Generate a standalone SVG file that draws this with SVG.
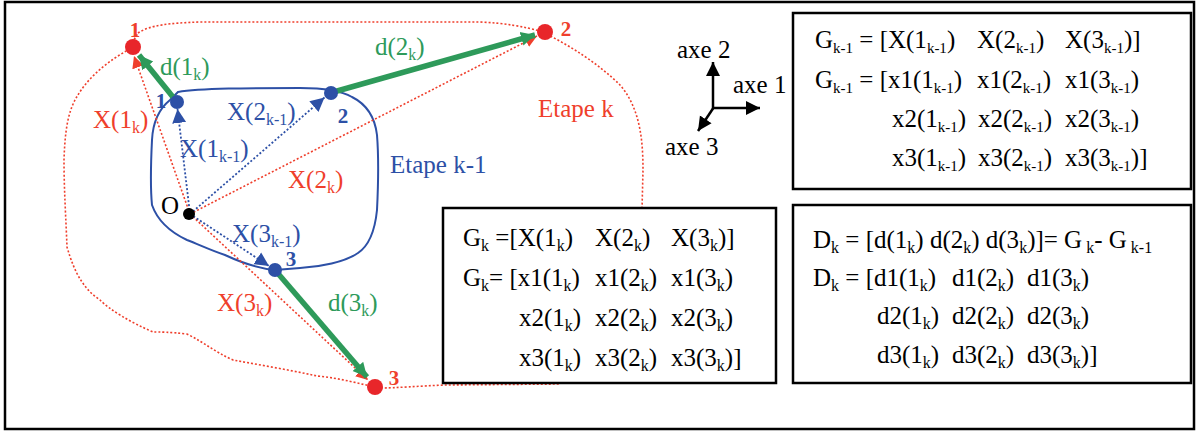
<svg xmlns="http://www.w3.org/2000/svg" width="1198" height="434" viewBox="0 0 1198 434">
<defs>
<style>
.t{font-family:"Liberation Serif","Times New Roman",serif;font-size:25px;fill:#000}
.s{font-size:16px}
.s2{font-size:15px}
.red{fill:#ef3f2c}
.blue{fill:#2d50a6}
.green{fill:#2e9a5a}
.num{font-family:"Liberation Serif","Times New Roman",serif;font-size:21px;font-weight:bold;text-anchor:middle}
.box{fill:#fff;stroke:#000;stroke-width:2.5}
.rdot{stroke:#ef3f2c;stroke-width:1.6;stroke-dasharray:2 2;fill:none}
.bdot{stroke:#2d50a6;stroke-width:1.8;stroke-dasharray:2 2;fill:none}
.gar{stroke:#2e9a5a;stroke-width:5.5;fill:none}
.ax{stroke:#000;stroke-width:2.5;fill:none}
</style>
<marker id="mr" markerUnits="userSpaceOnUse" markerWidth="14" markerHeight="12" refX="12" refY="6" orient="auto"><path d="M0,0 L12,6 L0,12 Z" fill="#ef3f2c"/></marker>
<marker id="mb" markerUnits="userSpaceOnUse" markerWidth="16" markerHeight="16" refX="14" refY="8" orient="auto"><path d="M0,1 L14,8 L0,15 Z" fill="#2d50a6"/></marker>
<marker id="mg" markerUnits="userSpaceOnUse" markerWidth="16" markerHeight="16" refX="14" refY="8" orient="auto"><path d="M0,1 L14,8 L0,15 Z" fill="#2e9a5a"/></marker>
<marker id="mk" markerUnits="userSpaceOnUse" markerWidth="16" markerHeight="16" refX="14" refY="8" orient="auto"><path d="M0,1 L14,8 L0,15 Z" fill="#000"/></marker>
</defs>
<rect x="0" y="0" width="1198" height="434" fill="#fff"/>
<rect x="5" y="2" width="1189" height="427" fill="none" stroke="#000" stroke-width="2.5"/>

<g id="etape-k">
<path class="rdot" d="M138,33 C150,25 170,23 200,22 L480,22 C505,23 525,27 540,31 C570,45 600,65 620,85 C640,108 643,140 643,170 L642,210 L642,300 L560,384 L445,385 C420,386 395,388 380,388 C360,384 340,378 317,376 C290,370 260,365 233,360 C215,352 205,343 187,334 C170,332 160,332 153,332 C130,322 110,310 100,300 C85,290 75,275 67,247 C66,220 64,190 64,160 C65,130 68,110 78,95 C90,75 110,60 128,50 Z"/>
<text class="t red" x="538" y="117">Etape k</text>
</g>
<g id="etape-k-1">
<path d="M178,92 C200,88 250,88 300,88 C320,88 340,90 352,97 C368,105 375,118 377,135 C379,160 378,190 377,210 C375,230 370,245 358,253 C345,262 320,267 300,268 L275,270 C255,268 240,262 225,255 C210,250 200,245 187,240 C170,232 158,222 152,205 C150,185 151,160 152,140 C153,120 160,108 170,100 Z" fill="none" stroke="#2d50a6" stroke-width="2"/>
<text class="t blue" x="390" y="173">Etape k-1</text>
</g>

<g id="connectors">
<line class="rdot" x1="190" y1="214" x2="134" y2="56" marker-end="url(#mr)"/>
<line class="rdot" x1="190" y1="214" x2="537" y2="36" marker-end="url(#mr)"/>
<line class="rdot" x1="190" y1="214" x2="368" y2="380" marker-end="url(#mr)"/>
<line class="bdot" x1="190" y1="214" x2="177.5" y2="109" marker-end="url(#mb)"/>
<line class="bdot" x1="190" y1="214" x2="324.5" y2="97.5" marker-end="url(#mb)"/>
<line class="bdot" x1="190" y1="214" x2="269" y2="266" marker-end="url(#mb)"/>
<line class="gar" x1="177" y1="102" x2="139" y2="55" marker-end="url(#mg)"/>
<line class="gar" x1="330" y1="93" x2="535" y2="35" marker-end="url(#mg)"/>
<line class="gar" x1="275" y1="270" x2="367" y2="377" marker-end="url(#mg)"/>
</g>

<g id="O"><circle cx="189" cy="214" r="6" fill="#000"/><text class="t" x="161" y="214">O</text></g>
<g id="b1"><circle cx="177" cy="102" r="7" fill="#2d50a6"/><text class="num blue" x="161" y="108">1</text></g>
<g id="b2"><circle cx="331" cy="93" r="7" fill="#2d50a6"/><text class="num blue" x="343" y="123">2</text></g>
<g id="b3"><circle cx="275" cy="270" r="7" fill="#2d50a6"/><text class="num blue" x="291" y="266">3</text></g>
<g id="r1"><circle cx="133" cy="47" r="8" fill="#e8262a"/><text class="num red" x="135" y="37">1</text></g>
<g id="r2"><circle cx="545" cy="32" r="8" fill="#e8262a"/><text class="num red" x="566" y="36">2</text></g>
<g id="r3"><circle cx="375" cy="387" r="8" fill="#e8262a"/><text class="num red" x="394" y="385">3</text></g>

<g id="labels">
<text class="t green" x="160" y="75">d(1<tspan class="s" dy="5">k</tspan><tspan dy="-5">)</tspan></text>
<text class="t green" x="375" y="55">d(2<tspan class="s" dy="5">k</tspan><tspan dy="-5">)</tspan></text>
<text class="t green" x="328" y="311">d(3<tspan class="s" dy="5">k</tspan><tspan dy="-5">)</tspan></text>
<text class="t red" x="93" y="128">X(1<tspan class="s" dy="5">k</tspan><tspan dy="-5">)</tspan></text>
<text class="t red" x="288" y="188">X(2<tspan class="s" dy="5">k</tspan><tspan dy="-5">)</tspan></text>
<text class="t red" x="217" y="311">X(3<tspan class="s" dy="5">k</tspan><tspan dy="-5">)</tspan></text>
<text class="t blue" x="180" y="157">X(1<tspan class="s" dy="5">k-1</tspan><tspan dy="-5">)</tspan></text>
<text class="t blue" x="227" y="120">X(2<tspan class="s" dy="5">k-1</tspan><tspan dy="-5">)</tspan></text>
<text class="t blue" x="232" y="242">X(3<tspan class="s" dy="5">k-1</tspan><tspan dy="-5">)</tspan></text>
</g>

<g id="axes">
<line class="ax" x1="713" y1="109" x2="713" y2="62" marker-end="url(#mk)"/>
<line class="ax" x1="712" y1="108" x2="760" y2="108" marker-end="url(#mk)"/>
<line class="ax" x1="714" y1="107" x2="698" y2="131" marker-end="url(#mk)"/>
<text class="t" x="677" y="58">axe 2</text>
<text class="t" x="733" y="93">axe 1</text>
<text class="t" x="665" y="155">axe 3</text>
</g>

<g id="box-Gk1">
<rect class="box" x="793" y="13" width="398" height="176"/>
<text class="t" x="815" y="48">G<tspan class="s2" dy="5">k-1</tspan><tspan dy="-5"> = [X(1</tspan><tspan class="s2" dy="5">k-1</tspan><tspan dy="-5">)</tspan></text>
<text class="t" x="977" y="48">X(2<tspan class="s2" dy="5">k-1</tspan><tspan dy="-5">)</tspan></text>
<text class="t" x="1065" y="48">X(3<tspan class="s2" dy="5">k-1</tspan><tspan dy="-5">)]</tspan></text>
<text class="t" x="815" y="88">G<tspan class="s2" dy="5">k-1</tspan><tspan dy="-5"> = [x1(1</tspan><tspan class="s2" dy="5">k-1</tspan><tspan dy="-5">)</tspan></text>
<text class="t" x="977" y="88">x1(2<tspan class="s2" dy="5">k-1</tspan><tspan dy="-5">)</tspan></text>
<text class="t" x="1065" y="88">x1(3<tspan class="s2" dy="5">k-1</tspan><tspan dy="-5">)</tspan></text>
<text class="t" x="892" y="127">x2(1<tspan class="s2" dy="5">k-1</tspan><tspan dy="-5">)</tspan></text>
<text class="t" x="978" y="127">x2(2<tspan class="s2" dy="5">k-1</tspan><tspan dy="-5">)</tspan></text>
<text class="t" x="1065" y="127">x2(3<tspan class="s2" dy="5">k-1</tspan><tspan dy="-5">)</tspan></text>
<text class="t" x="892" y="166">x3(1<tspan class="s2" dy="5">k-1</tspan><tspan dy="-5">)</tspan></text>
<text class="t" x="978" y="166">x3(2<tspan class="s2" dy="5">k-1</tspan><tspan dy="-5">)</tspan></text>
<text class="t" x="1065" y="166">x3(3<tspan class="s2" dy="5">k-1</tspan><tspan dy="-5">)]</tspan></text>
</g>

<g id="box-Gk">
<rect class="box" x="443" y="208" width="333" height="175"/>
<text class="t" x="463" y="246">G<tspan class="s" dy="5">k</tspan><tspan dy="-5"> =[X(1</tspan><tspan class="s" dy="5">k</tspan><tspan dy="-5">)</tspan></text>
<text class="t" x="595" y="246">X(2<tspan class="s" dy="5">k</tspan><tspan dy="-5">)</tspan></text>
<text class="t" x="671" y="246">X(3<tspan class="s" dy="5">k</tspan><tspan dy="-5">)]</tspan></text>
<text class="t" x="463" y="286">G<tspan class="s" dy="5">k</tspan><tspan dy="-5">= [x1(1</tspan><tspan class="s" dy="5">k</tspan><tspan dy="-5">)</tspan></text>
<text class="t" x="595" y="286">x1(2<tspan class="s" dy="5">k</tspan><tspan dy="-5">)</tspan></text>
<text class="t" x="671" y="286">x1(3<tspan class="s" dy="5">k</tspan><tspan dy="-5">)</tspan></text>
<text class="t" x="519" y="326">x2(1<tspan class="s" dy="5">k</tspan><tspan dy="-5">)</tspan></text>
<text class="t" x="595" y="326">x2(2<tspan class="s" dy="5">k</tspan><tspan dy="-5">)</tspan></text>
<text class="t" x="671" y="326">x2(3<tspan class="s" dy="5">k</tspan><tspan dy="-5">)</tspan></text>
<text class="t" x="519" y="366">x3(1<tspan class="s" dy="5">k</tspan><tspan dy="-5">)</tspan></text>
<text class="t" x="595" y="366">x3(2<tspan class="s" dy="5">k</tspan><tspan dy="-5">)</tspan></text>
<text class="t" x="671" y="366">x3(3<tspan class="s" dy="5">k</tspan><tspan dy="-5">)]</tspan></text>
</g>

<g id="box-Dk">
<rect class="box" x="793" y="205" width="398" height="178"/>
<text class="t" x="813" y="248">D<tspan class="s" dy="5">k</tspan><tspan dy="-5"> = [d(1</tspan><tspan class="s" dy="5">k</tspan><tspan dy="-5">) d(2</tspan><tspan class="s" dy="5">k</tspan><tspan dy="-5">) d(3</tspan><tspan class="s" dy="5">k</tspan><tspan dy="-5">)]= G</tspan><tspan class="s" dy="5"> k</tspan><tspan dy="-5">- G</tspan><tspan class="s" dy="5"> k-1</tspan></text>
<text class="t" x="813" y="286">D<tspan class="s" dy="5">k</tspan><tspan dy="-5"> = [d1(1</tspan><tspan class="s" dy="5">k</tspan><tspan dy="-5">)</tspan></text>
<text class="t" x="952" y="286">d1(2<tspan class="s" dy="5">k</tspan><tspan dy="-5">)</tspan></text>
<text class="t" x="1027" y="286">d1(3<tspan class="s" dy="5">k</tspan><tspan dy="-5">)</tspan></text>
<text class="t" x="877" y="324">d2(1<tspan class="s" dy="5">k</tspan><tspan dy="-5">)</tspan></text>
<text class="t" x="952" y="324">d2(2<tspan class="s" dy="5">k</tspan><tspan dy="-5">)</tspan></text>
<text class="t" x="1027" y="324">d2(3<tspan class="s" dy="5">k</tspan><tspan dy="-5">)</tspan></text>
<text class="t" x="877" y="363">d3(1<tspan class="s" dy="5">k</tspan><tspan dy="-5">)</tspan></text>
<text class="t" x="952" y="363">d3(2<tspan class="s" dy="5">k</tspan><tspan dy="-5">)</tspan></text>
<text class="t" x="1027" y="363">d3(3<tspan class="s" dy="5">k</tspan><tspan dy="-5">)]</tspan></text>
</g>
</svg>
